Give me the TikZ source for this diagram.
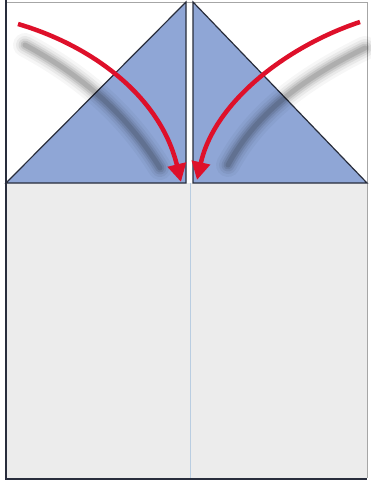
\documentclass[tikz,border=0pt]{standalone}
\usetikzlibrary{arrows.meta}
\definecolor{paper}{RGB}{236,236,236}
\definecolor{flap}{RGB}{143,166,214}
\definecolor{edge}{RGB}{40,45,60}
\definecolor{foldred}{RGB}{222,16,42}
\definecolor{crease}{RGB}{185,205,225}
\tikzset{
  flapst/.style={fill=flap, draw=edge, line width=1.2pt, line join=miter},
  arrowst/.style={draw=foldred, line width=4.5pt, -{Triangle[length=18pt,width=18pt]}},
  shadowst/.style={draw=black, line cap=round},
}
\begin{document}
\begin{tikzpicture}[x=1pt,y=-1pt]
\useasboundingbox (0,0) rectangle (370,482);
\fill[white] (0,0) rectangle (370,482);
% paper
\fill[paper] (6,183) rectangle (367,478);
\fill[white] (6,2) rectangle (367,183);
\draw[gray!70, line width=1pt] (6,2) -- (367,2) -- (367,478);
\draw[edge, line width=2pt] (6,0) -- (6,479) -- (367,479);
% crease
\draw[crease, line width=1pt] (190,183) -- (190,478);
% flaps
\node[coordinate] (la) at (186,2) {};
\node[coordinate] (lb) at (6,183) {};
\node[coordinate] (lc) at (186,183) {};
\node[coordinate] (ra) at (193,2) {};
\node[coordinate] (rb) at (367,183) {};
\node[coordinate] (rc) at (193,183) {};
\draw[flapst] (la) -- (lb) -- (lc) -- cycle;
\draw[flapst] (ra) -- (rb) -- (rc) -- cycle;
% shadows (blur imitation)
\foreach \w/\o in {24/0.035,18/0.05,13/0.07,9/0.09,5/0.11}{
  \draw[shadowst, line width=\w pt, opacity=\o] (25,45) .. controls (90,80) and (130,120) .. (160,168);
  \draw[shadowst, line width=\w pt, opacity=\o] (365,48) .. controls (300,80) and (255,115) .. (228,165);
}
% arrows
\coordinate (ls) at (18,24);
\coordinate (le) at (181,182);
\coordinate (rs) at (360,22);
\coordinate (re) at (197,180);
\draw[arrowst] (ls) .. controls (90,45) and (160,95) .. (le);
\draw[arrowst] (rs) .. controls (290,45) and (215,100) .. (re);
\end{tikzpicture}
\end{document}
